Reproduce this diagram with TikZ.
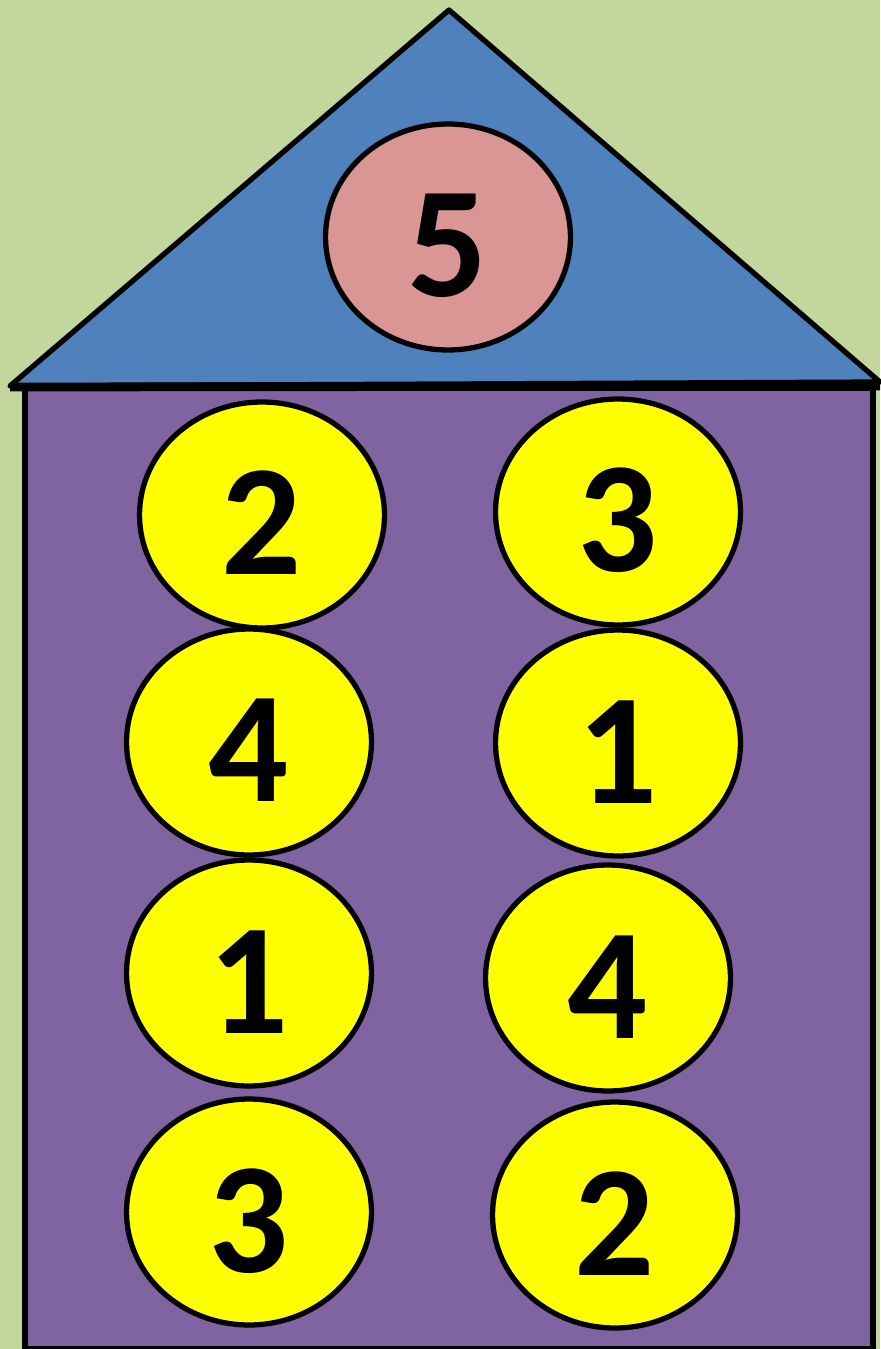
\documentclass[tikz,border=0pt]{standalone}
\usepackage{fontspec}
\setmainfont{Carlito}
\usetikzlibrary{shapes.geometric}
\definecolor{bggreen}{HTML}{C3D69B}
\definecolor{roofblue}{HTML}{4F81BD}
\definecolor{pinkc}{HTML}{D99694}
\definecolor{purplec}{HTML}{8064A2}
\definecolor{yellowc}{HTML}{FFFF00}
\tikzset{
  ball/.style={ellipse, draw=black, line width=3pt, fill=yellowc, inner sep=0pt,
    minimum width=4.9cm, minimum height=4.52cm, text height=2.4cm, text depth=0pt,
    font=\fontsize{90}{90}\selectfont\bfseries},
  topball/.style={ball, fill=pinkc},
  outline/.style={draw=black, line width=3pt, line join=miter}
}
\begin{document}
\begin{tikzpicture}[x=0.02cm, y=-0.02cm]
\fill[bggreen] (0,0) rectangle (880,1349);
\useasboundingbox (0,0) rectangle (880,1349);
% house body
\draw[outline, fill=purplec] (25,388) rectangle (873,1349);
% roof
\draw[outline, fill=roofblue, line join=round] (10,386) -- (449,10) -- (880,382) -- cycle;
\draw[draw=black, line width=5pt] (10,387) -- (880,386);
% balls
\node[topball] (b5) at (448,237) {5};
\node[ball] (l2) at (262,515) {2};
\node[ball] (r3) at (618,512) {3};
\node[ball] (l4) at (249,742) {4};
\node[ball] (r1) at (618,743) {1};
\node[ball] (l1) at (249,973) {1};
\node[ball] (r4) at (608,978) {4};
\node[ball] (l3) at (249,1212) {3};
\node[ball] (r2) at (615,1215) {2};
\end{tikzpicture}
\end{document}
